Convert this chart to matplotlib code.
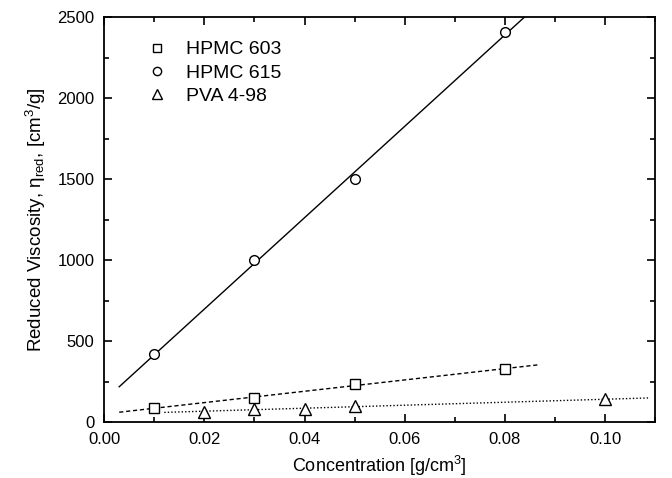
import numpy as np
import matplotlib.pyplot as plt
from matplotlib.ticker import MultipleLocator

plt.rcParams['font.family'] = ['Liberation Sans', 'DejaVu Sans']
plt.rcParams['mathtext.fontset'] = 'custom'
plt.rcParams['mathtext.rm'] = 'Liberation Sans'
plt.rcParams['mathtext.it'] = 'Liberation Sans'

# Data
conc_603 = [0.01, 0.03, 0.05, 0.08]
visc_603 = [85, 148, 238, 325]

conc_615 = [0.01, 0.03, 0.05, 0.08]
visc_615 = [420, 1000, 1500, 2410]

conc_pva = [0.02, 0.03, 0.04, 0.05, 0.10]
visc_pva = [65, 80, 80, 100, 140]

# fit line ranges
fit_615 = (0.003, 0.095)
fit_603 = (0.003, 0.087)
fit_pva = (0.012, 0.109)

fig = plt.figure(figsize=(6.72, 4.78), dpi=100)
ax = fig.add_axes([0.155, 0.117, 0.82, 0.847])

def fit_line(x, y, rng, style):
    k, b = np.polyfit(x, y, 1)
    xs = np.array(rng)
    ax.plot(xs, k * xs + b, color='black', linestyle=style, linewidth=1.0)

fit_line(conc_615, visc_615, fit_615, '-')
fit_line(conc_603, visc_603, fit_603, (0, (3, 2)))
fit_line(conc_pva, visc_pva, fit_pva, (0, (1, 1.5)))

mk = dict(linestyle='none', markerfacecolor='white', markeredgecolor='black',
          markeredgewidth=1.0, markersize=7)
ax.plot(conc_603, visc_603, marker='s', label='HPMC 603', **dict(mk, markersize=6.5))
ax.plot(conc_615, visc_615, marker='o', label='HPMC 615', **mk)
ax.plot(conc_pva, visc_pva, marker='^', label='PVA 4-98', **dict(mk, markersize=8))

ax.set_xlim(0, 0.11)
ax.set_ylim(0, 2500)
ax.xaxis.set_major_locator(MultipleLocator(0.02))
ax.xaxis.set_minor_locator(MultipleLocator(0.01))
ax.yaxis.set_major_locator(MultipleLocator(500))
ax.yaxis.set_minor_locator(MultipleLocator(250))
ax.xaxis.set_major_formatter(plt.FormatStrFormatter('%.2f'))
ax.tick_params(which='both', direction='in', top=True, right=True, labelsize=12, width=1.2)
ax.tick_params(which='major', length=6, pad=7)
ax.tick_params(which='minor', length=3.5)
for s in ax.spines.values():
    s.set_linewidth(1.3)

ax.set_xlabel('Concentration [g/cm$^3$]', fontsize=13, labelpad=5)
ax.set_ylabel('Reduced Viscosity, $\\mathregular{\\eta_{red}}$, [cm$^3$/g]', fontsize=13.5, labelpad=7)

ax.legend(loc='upper left', frameon=False, fontsize=14, handletextpad=0.5,
          borderaxespad=0.6, labelspacing=0.3, markerscale=0.85,
          bbox_to_anchor=(0.025, 0.99))

plt.savefig('out.png', dpi=100)
